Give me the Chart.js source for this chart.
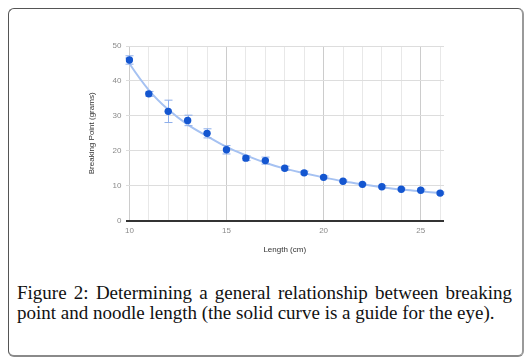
<!DOCTYPE html>
<html>
<head>
<meta charset="utf-8">
<script src="https://cdn.jsdelivr.net/npm/chart.js@4/dist/chart.umd.min.js"></script>
<style>
  html, body { margin: 0; padding: 0; background: #fff; }
  body { width: 532px; height: 364px; position: relative; overflow: hidden; }
  #frame {
    position: absolute; left: 8px; top: 8px; width: 513px; height: 346px;
    border: 1px solid #555; border-right: 2px solid #9a9a9a; border-bottom: 2px solid #8a8a8a;
    border-radius: 6px;
  }
  #chartBox { position: absolute; left: 0; top: 0; width: 532px; height: 270px; }
  #caption {
    position: absolute; left: 17px; top: 283px; width: 495px;
    font-family: "Liberation Serif", "DejaVu Serif", serif; font-size: 19px; line-height: 20px;
    color: #111; text-align: justify; text-align-last: left;
  }
</style>
</head>
<body>
<div id="frame"></div>
<div id="chartBox"><canvas id="chart" width="532" height="270"></canvas></div>
<div id="caption">Figure 2: Determining a general relationship between breaking point and noodle length (the solid curve is a guide for the eye).</div>
<script>
// measured points
const lengths = [10, 11, 12, 13, 14, 15, 16, 17, 18, 19, 20, 21, 22, 23, 24, 25, 26];
const breakingPoint = [46.0, 36.3, 31.3, 28.7, 25.0, 20.3, 17.9, 17.2, 15.0, 13.7, 12.4, 11.3, 10.4, 9.7, 9.0, 8.7, 7.9];
const errors = [1.2, 0.7, 3.2, 1.5, 1.3, 1.2, 0.7, 1.0, 0.6, 0.5, 0.4, 0.3, 0.3, 0.3, 0.3, 0.3, 0.3];

// guide-for-the-eye curve
const curveX = [9.8, 10, 11, 12, 13, 14, 15, 16, 17, 18, 19, 20, 21, 22, 23, 24, 25, 26, 26.2];
const curveY = [46.8, 45.0, 37.4, 31.8, 27.5, 24.2, 21.1, 18.7, 16.6, 14.9, 13.6, 12.4, 11.3, 10.4, 9.6, 8.9, 8.4, 7.9, 7.8];

const xTicks = [10, 11, 12, 13, 14, 15, 16, 17, 18, 19, 20, 21, 22, 23, 24, 25, 26];
const yTicks = [0, 10, 20, 30, 40, 50];

const pointData = lengths.map((x, i) => ({ x: x, y: breakingPoint[i] }));
const curveData = curveX.map((x, i) => ({ x: x, y: curveY[i] }));

// error bars drawn right after the curve, so the dots sit on top
const errorBars = {
  id: 'errorBars',
  afterDatasetDraw(chart, args) {
    if (args.index !== 1) return;
    const ctx = chart.ctx;
    const xs = chart.scales.x, ys = chart.scales.y;
    ctx.save();
    ctx.strokeStyle = '#8eaeea';
    ctx.lineWidth = 1;
    lengths.forEach((x, i) => {
      const px = Math.round(xs.getPixelForValue(x)) + 0.5;
      const top = ys.getPixelForValue(breakingPoint[i] + errors[i]);
      const bot = ys.getPixelForValue(breakingPoint[i] - errors[i]);
      ctx.beginPath();
      ctx.moveTo(px, top); ctx.lineTo(px, bot);
      ctx.moveTo(px - 4, top); ctx.lineTo(px + 4, top);
      ctx.moveTo(px - 4, bot); ctx.lineTo(px + 4, bot);
      ctx.stroke();
    });
    ctx.restore();
  }
};

const tickFont = { family: 'Arial, "Liberation Sans", sans-serif', size: 8 };

new Chart(document.getElementById('chart'), {
  type: 'line',
  data: {
    datasets: [{
      data: pointData,
      showLine: false,
      pointRadius: 3.7,
      pointBackgroundColor: '#1456d0',
      pointBorderColor: '#1456d0',
      pointBorderWidth: 0
    }, {
      data: curveData,
      borderColor: '#a6c2f2',
      borderWidth: 2,
      pointRadius: 0,
      cubicInterpolationMode: 'monotone',
      fill: false
    }]
  },
  options: {
    responsive: false,
    animation: false,
    layout: { padding: { left: 83, right: 88, top: 46, bottom: 11 } },
    plugins: { legend: { display: false }, tooltip: { enabled: false } },
    scales: {
      x: {
        type: 'linear',
        min: 9.8,
        max: 26.2,
        afterBuildTicks: (scale) => { scale.ticks = xTicks.map(v => ({ value: v })); },
        afterFit: (scale) => { scale.height = 38.3; },
        border: { display: false },
        grid: {
          drawTicks: false,
          color: (c) => (c.tick && c.tick.value % 5 === 0) ? '#cccccc' : '#e8e8e8'
        },
        ticks: {
          autoSkip: false,
          maxRotation: 0,
          padding: 5,
          color: '#8a8a8a',
          font: tickFont,
          callback: (v) => (v % 5 === 0 ? String(v) : '')
        },
        title: {
          display: true,
          text: 'Length (cm)',
          color: '#333',
          font: tickFont
        }
      },
      y: {
        min: 0,
        max: 50,
        afterBuildTicks: (scale) => { scale.ticks = yTicks.map(v => ({ value: v })); },
        afterFit: (scale) => { scale.width = 42.5; },
        border: { display: false },
        grid: {
          drawTicks: false,
          color: (c) => (c.tick && c.tick.value === 0) ? '#333333' : '#dddddd',
          lineWidth: (c) => (c.tick && c.tick.value === 0) ? 2 : 1
        },
        ticks: {
          padding: 4,
          color: '#8a8a8a',
          font: tickFont
        },
        title: {
          display: true,
          text: 'Breaking Point (grams)',
          color: '#333',
          font: tickFont
        }
      }
    }
  },
  plugins: [errorBars]
});
</script>
</body>
</html>
